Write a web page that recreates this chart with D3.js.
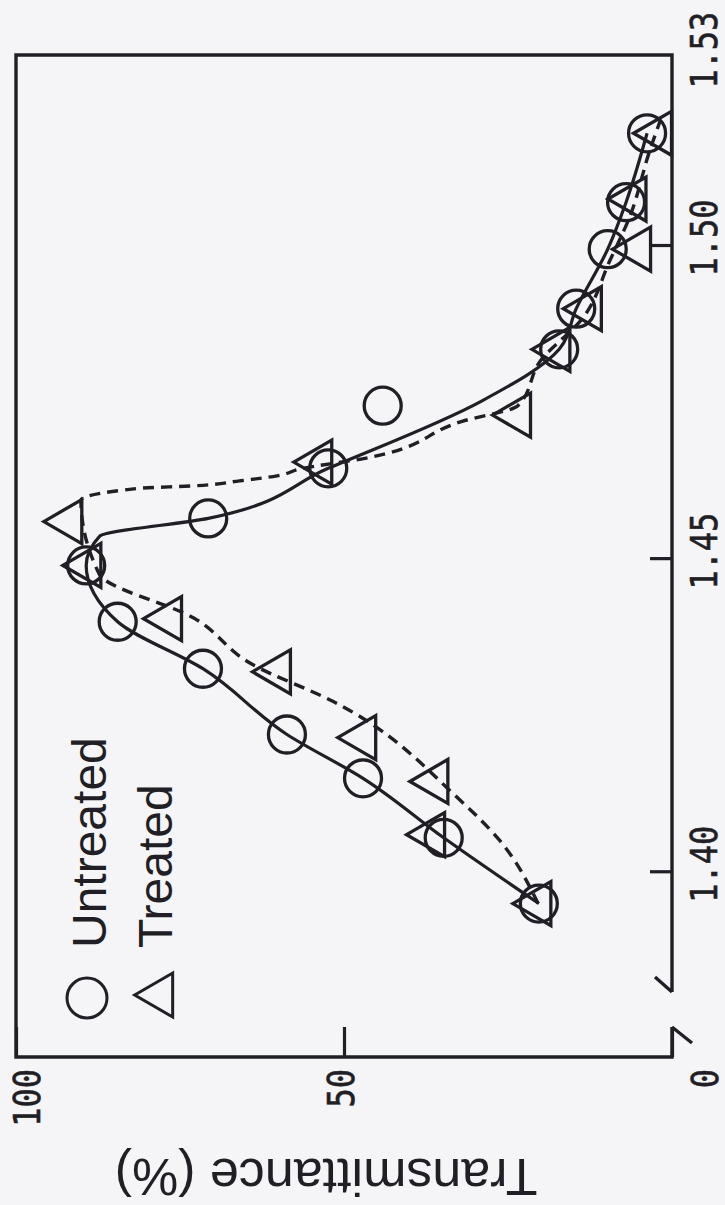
<!DOCTYPE html>
<html>
<head>
<meta charset="utf-8">
<title>Transmittance</title>
<script src="https://cdn.jsdelivr.net/npm/d3@7"></script>
<style>
  body { margin: 0; background: #f5f5f7; }
  svg { display: block; }
</style>
</head>
<body>
<div id="chart"></div>
<script>
// measured points (refractive index, transmittance %)
const untreatedIndex = [1.395, 1.4055, 1.415, 1.422, 1.4325, 1.44, 1.449, 1.4565, 1.4645, 1.4745, 1.4835, 1.49, 1.4995, 1.507, 1.518];
const untreatedT     = [20.3, 34.8, 47.1, 58.7, 71.5, 84.5, 89.3, 70.7, 52.4, 44.1, 17.2, 14.6, 9.8, 7.0, 3.8];

const treatedIndex = [1.395, 1.406, 1.4145, 1.4215, 1.432, 1.4405, 1.449, 1.456, 1.4655, 1.473, 1.4835, 1.49, 1.4995, 1.5075, 1.518];
const treatedT     = [20.4, 36.6, 36.1, 47.1, 60.1, 76.7, 89.0, 91.9, 53.8, 23.5, 17.5, 12.7, 5.2, 5.9, 2.0];

// hand drawn curves through the points
const solidIndex = [1.395, 1.4055, 1.415, 1.422, 1.4325, 1.44, 1.449, 1.4537, 1.4565, 1.4645, 1.4752, 1.4835, 1.49, 1.4995, 1.507, 1.518];
const solidT     = [20.3, 34.8, 47.1, 58.7, 71.5, 84.5, 89.3, 87.2, 70.7, 52.4, 29.1, 17.2, 14.6, 9.8, 7.0, 3.8];

const dashIndex = [1.395, 1.405, 1.4118, 1.4273, 1.4332, 1.4406, 1.4476, 1.4594, 1.4613, 1.4617, 1.4625, 1.4633, 1.4644, 1.4661, 1.472, 1.4745, 1.4816, 1.4885, 1.4976, 1.5048, 1.5152, 1.52];
const dashT     = [20.4, 26.2, 32.6, 51.7, 64.0, 72.9, 87.3, 90.1, 81.3, 72.9, 65.9, 60.2, 56.7, 46.8, 32.0, 23.5, 20.1, 13.6, 9.5, 6.4, 3.4, 1.8];

const xTicks = [1.40, 1.45, 1.50];
const xTickLabels = ["1.40", "1.45", "1.50", "1.53"];
const xLabelValues = [1.40, 1.45, 1.50, 1.53];
const yTicks = [0, 50, 100];

const seriesNames = ["Untreated", "Treated"];
const axisTitle = "Transmittance (%)";

const W = 725, H = 1205;
const ink = "#211e25";

const svg = d3.select("#chart").append("svg")
	.attr("width", W)
	.attr("height", H);

svg.append("rect").attr("width", W).attr("height", H).attr("fill", "#f5f5f7");

// the chart is drawn upright (1205 wide, 725 tall) and then turned a quarter left
const g = svg.append("g").attr("transform", `translate(0,${H}) rotate(-90)`);

const x = d3.scaleLinear().domain([1.3705, 1.5305]).range([148, 1150]);
const y = d3.scaleLinear().domain([0, 100]).range([672, 16]);

const [x0, x1] = x.range();
const [yb, yt] = y.range();

// frame with a break in the bottom axis
const frame = d3.path();
frame.moveTo(x0 + 65, yb);
frame.lineTo(x1, yb);
frame.lineTo(x1, yt);
frame.lineTo(x0, yt);
frame.lineTo(x0, yb);
frame.lineTo(x0 + 30, yb);
frame.moveTo(x0 + 14, yb + 20);
frame.lineTo(x0 + 30, yb);
frame.moveTo(x0 + 65, yb);
frame.lineTo(x0 + 80, yb - 17);

g.append("path")
	.attr("d", frame.toString())
	.attr("fill", "none")
	.attr("stroke", ink)
	.attr("stroke-width", 3.4)
	.attr("stroke-linejoin", "miter");

// ticks
const xAxis = g.append("g")
	.attr("transform", `translate(0,${yb})`)
	.call(d3.axisBottom(x).tickValues(xTicks).tickSize(-22).tickFormat(""));
xAxis.select(".domain").remove();
xAxis.selectAll(".tick line").attr("stroke", ink).attr("stroke-width", 3.2);

const yAxis = g.append("g")
	.attr("transform", `translate(${x0},0)`)
	.call(d3.axisLeft(y).tickValues(yTicks).tickSize(-30).tickFormat(""));
yAxis.select(".domain").remove();
yAxis.selectAll(".tick line").attr("stroke", ink).attr("stroke-width", 3.2);

// tick labels in a narrow plotter style face
const tickFont = "'DejaVu Sans Mono', monospace";

g.selectAll("text.xlab")
	.data(xLabelValues)
	.join("text")
	.attr("class", "xlab")
	.attr("transform", d => `translate(${x(d) + 8},${yb + 45}) scale(0.84,1)`)
	.attr("text-anchor", "middle")
	.attr("font-family", tickFont)
	.attr("font-size", 38)
	.attr("fill", ink)
	.attr("stroke", ink)
	.attr("stroke-width", 0.6)
	.text((d, i) => xTickLabels[i]);

g.selectAll("text.ylab")
	.data(yTicks)
	.join("text")
	.attr("class", "ylab")
	.attr("transform", d => `translate(${x0 - 12},${y(d) + (d === 0 ? 32 : d === 100 ? 10 : -4)}) scale(0.84,1)`)
	.attr("text-anchor", "end")
	.attr("dominant-baseline", "central")
	.attr("font-family", tickFont)
	.attr("font-size", 38)
	.attr("fill", ink)
	.attr("stroke", ink)
	.attr("stroke-width", 0.6)
	.text(d => d);

// axis title
g.append("text")
	.attr("transform", `translate(46,${(yt + yb) / 2 - 18}) rotate(-90)`)
	.attr("text-anchor", "middle")
	.attr("font-family", "'Liberation Sans', Arial, sans-serif")
	.attr("font-size", 52)
	.attr("fill", ink)
	.text(axisTitle);

// curves
const line = d3.line()
	.x(d => x(d[0]))
	.y(d => y(d[1]))
	.curve(d3.curveMonotoneX);

g.append("path")
	.attr("d", line(d3.zip(solidIndex, solidT)))
	.attr("fill", "none")
	.attr("stroke", ink)
	.attr("stroke-width", 3.2);

g.append("path")
	.attr("d", line(d3.zip(dashIndex, dashT)))
	.attr("fill", "none")
	.attr("stroke", ink)
	.attr("stroke-width", 3.4)
	.attr("stroke-dasharray", "11,7");

// markers
const triangle = function (h, b) {
	return `M0,${-2 * h / 3}L${b / 2},${h / 3}L${-b / 2},${h / 3}Z`;
};

g.selectAll("path.tri")
	.data(d3.zip(treatedIndex, treatedT))
	.join("path")
	.attr("class", "tri")
	.attr("transform", d => `translate(${x(d[0])},${y(d[1])})`)
	.attr("d", triangle(38, 44))
	.attr("fill", "none")
	.attr("stroke", ink)
	.attr("stroke-width", 3.3)
	.attr("stroke-linejoin", "miter");

g.selectAll("circle.dot")
	.data(d3.zip(untreatedIndex, untreatedT))
	.join("circle")
	.attr("class", "dot")
	.attr("cx", d => x(d[0]))
	.attr("cy", d => y(d[1]))
	.attr("r", 18.5)
	.attr("fill", "none")
	.attr("stroke", ink)
	.attr("stroke-width", 3.3);

// legend
const legend = g.append("g");
legend.append("circle")
	.attr("cx", 207)
	.attr("cy", 87)
	.attr("r", 20)
	.attr("fill", "none")
	.attr("stroke", ink)
	.attr("stroke-width", 3);
legend.append("path")
	.attr("transform", "translate(210,160)")
	.attr("d", triangle(38, 44))
	.attr("fill", "none")
	.attr("stroke", ink)
	.attr("stroke-width", 3);
legend.selectAll("text")
	.data(seriesNames)
	.join("text")
	.attr("x", 257)
	.attr("y", (d, i) => 106 + i * 66)
	.attr("font-family", "'Liberation Sans', Arial, sans-serif")
	.attr("font-size", 48)
	.attr("fill", ink)
	.text(d => d);
</script>
</body>
</html>
